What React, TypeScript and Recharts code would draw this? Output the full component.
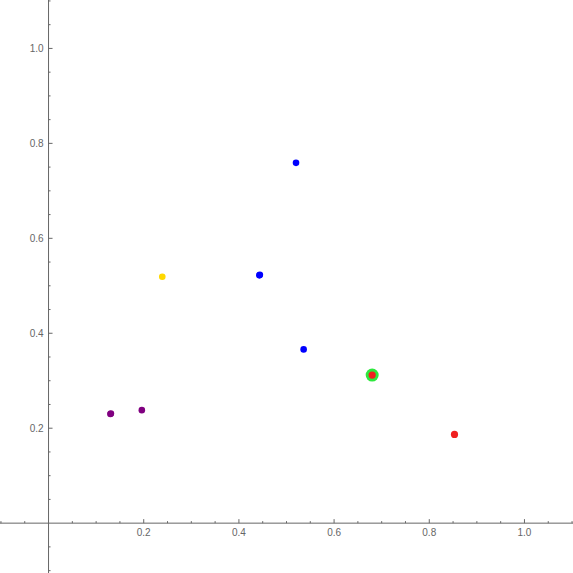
import { ScatterChart, Scatter, XAxis, YAxis, ReferenceLine, ReferenceDot } from 'recharts';

// points, grouped by colour
const purplePoints = [
    { x: 0.13, y: 0.23 },
    { x: 0.131, y: 0.231 },
    { x: 0.196, y: 0.238 },
];
const yellowPoints = [{ x: 0.239, y: 0.519 }];
const bluePoints = [
    { x: 0.443, y: 0.522 },
    { x: 0.444, y: 0.523 },
    { x: 0.52, y: 0.759 },
    { x: 0.536, y: 0.366 },
];
const greenPoints = [{ x: 0.68, y: 0.312 }];
const redPoints = [
    { x: 0.68, y: 0.312 },
    { x: 0.853, y: 0.187 },
];

const majorTicks = [0.2, 0.4, 0.6, 0.8, 1.0];
const minorTicks = [-0.1, -0.05, 0.05, 0.1, 0.15, 0.25, 0.3, 0.35, 0.45, 0.5, 0.55, 0.65, 0.7, 0.75, 0.85, 0.9, 0.95, 1.05, 1.1];

const axisColor = '#666666';
const labelColor = '#666666';

const dot = (r: number, fill: string) => (p: any) => <circle cx={p.cx} cy={p.cy} r={r} fill={fill} />;

export default function App() {
    return (
        <div style={{ position: 'absolute', left: 0, top: 0, width: 573, height: 573, background: '#fff' }}>
            <ScatterChart width={573} height={573} margin={{ top: 0, right: 0, bottom: 0, left: 0 }}>
                <XAxis type="number" dataKey="x" domain={[-0.102, 1.102]} hide allowDataOverflow />
                <YAxis type="number" dataKey="y" domain={[-0.105, 1.102]} hide allowDataOverflow />
                <ReferenceLine y={0} stroke={axisColor} strokeWidth={1} />
                <ReferenceLine x={0} stroke={axisColor} strokeWidth={1} />
                {minorTicks.map((t) => (
                    <ReferenceDot
                        key={'mx' + t}
                        x={t}
                        y={0}
                        shape={(p: any) => <line x1={p.cx} x2={p.cx} y1={p.cy} y2={p.cy - 2} stroke={axisColor} />}
                    />
                ))}
                {minorTicks.map((t) => (
                    <ReferenceDot
                        key={'my' + t}
                        x={0}
                        y={t}
                        shape={(p: any) => <line x1={p.cx} x2={p.cx + 2} y1={p.cy} y2={p.cy} stroke={axisColor} />}
                    />
                ))}
                {majorTicks.map((t) => (
                    <ReferenceDot
                        key={'x' + t}
                        x={t}
                        y={0}
                        shape={(p: any) => (
                            <g>
                                <line x1={p.cx} x2={p.cx} y1={p.cy} y2={p.cy - 4} stroke={axisColor} />
                                <text x={p.cx} y={p.cy + 13} textAnchor="middle" fontSize={10} fill={labelColor} fontFamily="Liberation Sans, Arial, sans-serif">
                                    {t.toFixed(1)}
                                </text>
                            </g>
                        )}
                    />
                ))}
                {majorTicks.map((t) => (
                    <ReferenceDot
                        key={'y' + t}
                        x={0}
                        y={t}
                        shape={(p: any) => (
                            <g>
                                <line x1={p.cx} x2={p.cx + 4} y1={p.cy} y2={p.cy} stroke={axisColor} />
                                <text x={p.cx - 5} y={p.cy + 3.5} textAnchor="end" fontSize={10} fill={labelColor} fontFamily="Liberation Sans, Arial, sans-serif">
                                    {t.toFixed(1)}
                                </text>
                            </g>
                        )}
                    />
                ))}
                <Scatter data={purplePoints} fill="#800080" shape={dot(3.3, '#800080')} isAnimationActive={false} />
                <Scatter data={yellowPoints} fill="#ffd800" shape={dot(3.3, '#ffd800')} isAnimationActive={false} />
                <Scatter data={bluePoints} fill="#0000ff" shape={dot(3.3, '#0000ff')} isAnimationActive={false} />
                <Scatter data={greenPoints} fill="#2ee83e" shape={dot(6.5, '#2ee83e')} isAnimationActive={false} />
                <Scatter data={redPoints} fill="#f02020" shape={dot(3.6, '#f02020')} isAnimationActive={false} />
            </ScatterChart>
        </div>
    );
}
